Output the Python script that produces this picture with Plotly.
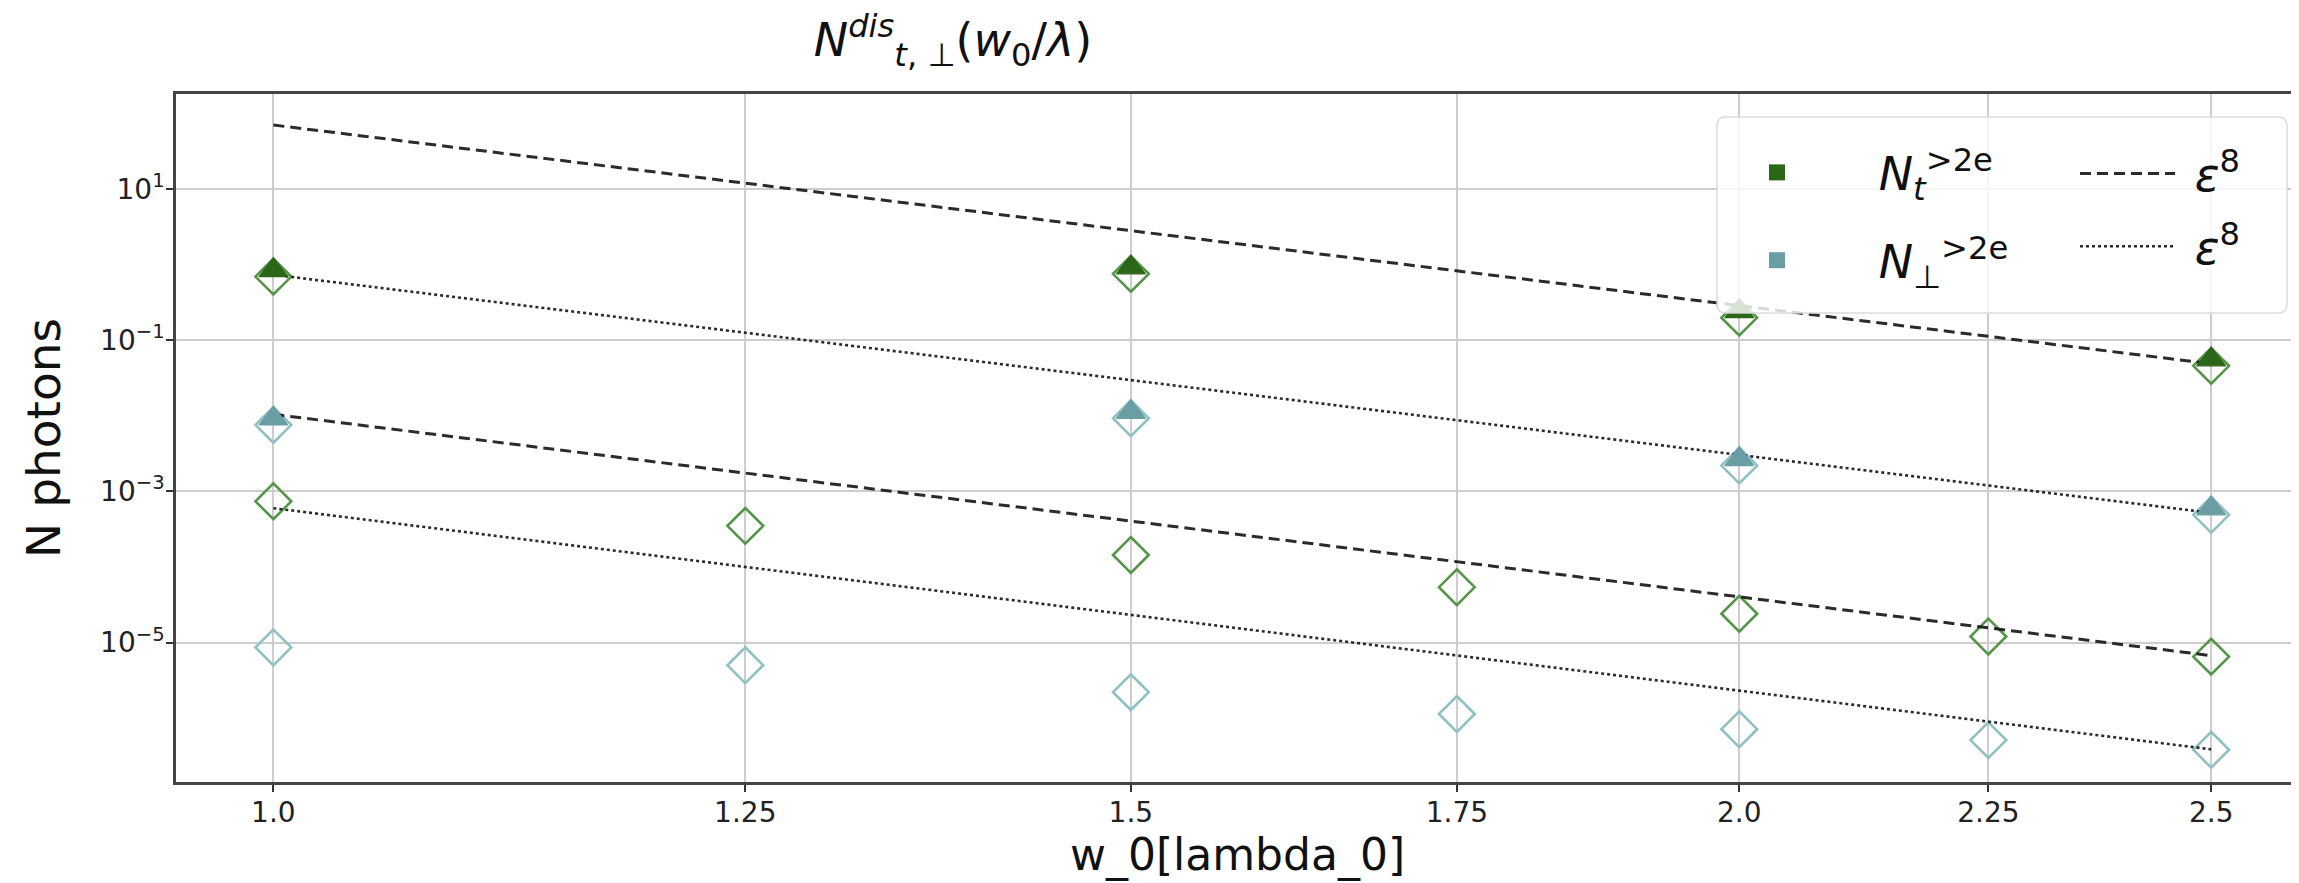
import math
import plotly.graph_objects as go

# ---------------- data ----------------
x_all = [1.0, 1.25, 1.5, 1.75, 2.0, 2.25, 2.5]
x_sub = [1.0, 1.5, 2.0, 2.5]

nt_high = [0.70, 0.76, 0.20, 0.046]            # N_t^{>2e}  (half-filled markers)
nperp_high = [0.0076, 0.0093, 0.0022, 0.00049]  # N_perp^{>2e} (half-filled markers)
nt_low = [7.4e-4, 3.5e-4, 1.44e-4, 5.4e-5, 2.4e-5, 1.2e-5, 6.5e-6]
nperp_low = [8.6e-6, 5.0e-6, 2.2e-6, 1.13e-6, 7.1e-7, 5.1e-7, 3.8e-7]

eps_x = [1.0, 2.5]
eps_dash_hi = [71.0, 0.049]
eps_dot_hi = [0.74, 5.2e-4]
eps_dash_lo = [0.0105, 6.7e-6]
eps_dot_lo = [6.0e-4, 3.85e-7]

x_tickvals = [1.0, 1.25, 1.5, 1.75, 2.0, 2.25, 2.5]
x_ticktext = ["1.0", "1.25", "1.5", "1.75", "2.0", "2.25", "2.5"]
y_tickvals = [1e-5, 1e-3, 1e-1, 1e1]
y_ticktext = ["10<sup>\u22125</sup>", "10<sup>\u22123</sup>", "10<sup>\u22121</sup>", "10<sup>1</sup>"]

# ---------------- layout geometry ----------------
OFF = 8                       # default page body margin
W, H = 2299 - OFF, 883 - OFF  # figure size
PL, PT, PB = 176, 94, 782     # plot-area edges in page pixels
ML, MR, MT, MB = PL - OFF, 0, PT - OFF, 883 - PB
PW, PH = W - ML - MR, H - MT - MB
YLO, YHI = -6.847, 2.262
XLO, XHI = math.log10(0.955), math.log10(2.606)
PPD = PH / (YHI - YLO)  # pixels per decade

GREEN_DARK = "#2c6619"
GREEN_EDGE = "#55954a"
TEAL_FILL = "#6a9ea4"
TEAL_EDGE = "#91c0c3"
LINE_COL = "rgba(25,25,25,0.92)"
FONT = "DejaVu Sans"

DSZ = 27.5                 # diamond size
TSZ = 25.0                 # triangle-up size (r = TSZ/2)
SHIFT_PX = TSZ / 4.0       # lift triangle by r/2 so its base sits at the diamond centre
D = SHIFT_PX / PPD


def px2x(px):
    return (px - PL) / PW


def px2y(py):
    return (PB - py) / PH


fig = go.Figure()

# open diamonds
for xs, ys, col in [(x_all, nt_low, GREEN_EDGE), (x_all, nperp_low, TEAL_EDGE),
                    (x_sub, nt_high, GREEN_EDGE), (x_sub, nperp_high, TEAL_EDGE)]:
    fig.add_trace(go.Scatter(x=xs, y=ys, mode="markers", showlegend=False,
                             marker=dict(symbol="diamond-open", size=DSZ, color=col,
                                         line=dict(width=2.6, color=col))))

# filled top halves (drawn on an overlay axis lifted by a few pixels)
for ys, col in [(nt_high, GREEN_DARK), (nperp_high, TEAL_FILL)]:
    fig.add_trace(go.Scatter(x=x_sub, y=ys, mode="markers", showlegend=False, yaxis="y2",
                             marker=dict(symbol="triangle-up", size=TSZ, color=col,
                                         line=dict(width=1.2, color=col))))

# epsilon^8 lines
fig.add_trace(go.Scatter(x=eps_x, y=eps_dash_hi, mode="lines", legend="legend2",
                         name="&nbsp;<i>\u03b5</i><sup>8</sup>", legendgroup="a",
                         line=dict(color=LINE_COL, width=3, dash="11px,6px")))
fig.add_trace(go.Scatter(x=eps_x, y=eps_dash_lo, mode="lines", showlegend=False,
                         line=dict(color=LINE_COL, width=3, dash="11px,6px")))
fig.add_trace(go.Scatter(x=eps_x, y=eps_dot_hi, mode="lines", legend="legend2",
                         name="&nbsp;<i>\u03b5</i><sup>8</sup>", legendgroup="b",
                         line=dict(color=LINE_COL, width=2.6, dash="3px,3px")))
fig.add_trace(go.Scatter(x=eps_x, y=eps_dot_lo, mode="lines", showlegend=False,
                         line=dict(color=LINE_COL, width=2.6, dash="3px,3px")))

# legend entries for the series
fig.add_trace(go.Scatter(x=[None], y=[None], mode="markers", legend="legend", legendgroup="c",
                         name="&nbsp;<i>N</i><sub><i>t</i></sub><sup>&gt;2e</sup>",
                         marker=dict(symbol="square", size=16, color=GREEN_DARK)))
fig.add_trace(go.Scatter(x=[None], y=[None], mode="markers", legend="legend", legendgroup="d",
                         name="&nbsp;<i>N</i><sub>\u22a5</sub><sup>&gt;2e</sup>",
                         marker=dict(symbol="square", size=16, color=TEAL_FILL)))

# legend background box (rounded)
bx0, by0, bx1, by1, r = 1717, 117, 2287, 313, 9
path = (f"M {px2x(bx0 + r)},{px2y(by0)} L {px2x(bx1 - r)},{px2y(by0)} "
        f"Q {px2x(bx1)},{px2y(by0)} {px2x(bx1)},{px2y(by0 + r)} "
        f"L {px2x(bx1)},{px2y(by1 - r)} Q {px2x(bx1)},{px2y(by1)} {px2x(bx1 - r)},{px2y(by1)} "
        f"L {px2x(bx0 + r)},{px2y(by1)} Q {px2x(bx0)},{px2y(by1)} {px2x(bx0)},{px2y(by1 - r)} "
        f"L {px2x(bx0)},{px2y(by0 + r)} Q {px2x(bx0)},{px2y(by0)} {px2x(bx0 + r)},{px2y(by0)} Z")
fig.add_shape(type="path", path=path, xref="paper", yref="paper", layer="above",
              fillcolor="rgba(255,255,255,0.82)", line=dict(color="rgba(215,215,215,0.9)", width=1.5))

axis_common = dict(showline=True, linecolor="#444", linewidth=2.5, ticks="outside",
                   ticklen=7, tickwidth=1.5, tickcolor="#333", showgrid=True,
                   gridcolor="#cdcdcd", gridwidth=2, zeroline=False, automargin=False,
                   tickfont=dict(family=FONT, size=28, color="#222"))

fig.update_layout(
    width=W, height=H,
    margin=dict(l=ML, r=MR, t=MT, b=MB, autoexpand=False),
    plot_bgcolor="white", paper_bgcolor="white",
    title=dict(text="<i>N</i><sup><i>dis</i></sup><sub><i>t</i>, \u22a5</sub>(<i>w</i><sub>0</sub>/<i>\u03bb</i>)",
               font=dict(family=FONT, size=46, color="#111"),
               x=px2x(953), xanchor="center", xref="paper", y=1 - (40 - OFF) / H, yanchor="middle",
               yref="container"),
    xaxis=dict(type="log", range=[XLO, XHI], tickvals=x_tickvals, ticktext=x_ticktext,
               mirror=True, ticklabelstandoff=-3,
               title=dict(text="w_0[lambda_0]", font=dict(family=FONT, size=44, color="#111"),
                          standoff=6),
               **axis_common),
    yaxis=dict(type="log", range=[YLO, YHI], tickvals=y_tickvals, ticktext=y_ticktext,
               mirror=False, ticklabelstandoff=-4,
               title=dict(text="N photons", font=dict(family=FONT, size=47, color="#111"),
                          standoff=25),
               **axis_common),
    yaxis2=dict(type="log", overlaying="y", range=[YLO - D, YHI - D], visible=False,
                showgrid=False, zeroline=False),
    legend=dict(x=px2x(1690), xanchor="left", y=px2y(136), yanchor="top",
                bgcolor="rgba(0,0,0,0)", borderwidth=0, itemwidth=164,
                tracegroupgap=25, font=dict(family=FONT, size=46, color="#111")),
    legend2=dict(x=px2x(2075), xanchor="left", y=px2y(137), yanchor="top",
                 bgcolor="rgba(0,0,0,0)", borderwidth=0, itemwidth=95,
                 tracegroupgap=10, font=dict(family=FONT, size=46, color="#111")),
)

fig.write_html("out.html")
